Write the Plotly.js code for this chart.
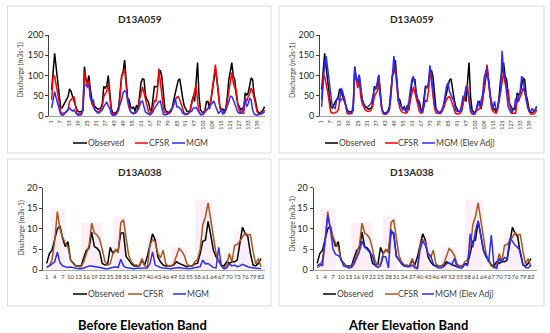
<!DOCTYPE html>
<html><head><meta charset="utf-8">
<script src="https://cdn.plot.ly/plotly-3.0.1.min.js"></script>
<style>html,body{margin:0;padding:0;background:#fff;}#chart{width:550px;height:333px;}</style>
</head><body><div id="chart"></div>
<script>
// ---------- DATA ----------
// Station D13A059: monthly discharge (m3/s), 144 months
const obs059 = [65,110,155,120,90,48,22,20,27,36,44,48,67,61,48,36,25,15,11,10,11,14,122,90,82,100,65,40,30,23,20,17,18,19,30,73,69,75,100,57,19,8,7,8,12,23,57,98,110,138,90,44,40,23,19,23,11,27,15,57,82,92,90,52,40,35,17,11,44,73,72,73,100,113,98,48,19,11,9,8,15,20,40,57,73,88,92,73,45,25,19,11,11,11,32,48,36,90,132,48,15,10,8,15,36,36,17,40,70,100,115,90,61,23,15,17,11,20,48,90,110,132,98,90,52,30,23,15,19,15,57,52,57,75,94,90,52,36,15,8,8,11,15,23];
const cfsr059 = [40,100,98,80,60,35,10,7,7,8,10,15,36,40,44,48,25,6,5,5,6,20,110,90,69,86,48,30,20,15,12,11,12,15,25,48,55,61,79,48,15,5,4,5,8,15,48,98,105,117,73,36,19,11,9,7,7,9,20,40,57,72,57,44,27,11,7,8,20,38,36,60,117,82,48,20,8,6,6,6,10,19,30,40,46,48,40,27,15,7,5,5,6,15,32,44,60,77,36,11,5,4,5,15,15,20,22,40,70,105,127,90,57,19,11,8,7,15,36,60,82,107,82,69,65,27,15,7,7,7,44,36,48,55,69,61,44,27,11,5,5,5,8,15];
const mgm059 = [20,45,60,45,30,22,5,2,3,8,12,18,20,15,12,15,8,4,2,2,3,15,76,76,75,76,45,35,40,15,10,7,8,11,15,23,30,35,25,19,5,2,2,3,8,19,30,40,58,62,60,40,23,10,7,5,7,10,15,25,35,37,23,10,7,4,3,5,10,19,25,31,35,37,15,4,3,3,5,8,11,19,28,45,23,23,19,15,7,4,3,4,8,11,11,19,20,21,15,7,3,3,5,10,15,19,23,30,35,37,25,15,7,10,15,5,8,15,23,35,49,48,40,31,19,10,7,8,11,23,40,23,30,44,40,15,5,3,2,3,5,7,8,10];
const mgmAdj059 = [23,90,132,148,120,80,60,25,22,19,40,45,36,69,60,45,27,11,10,8,7,30,119,98,82,102,69,40,30,24,22,23,28,32,48,69,65,82,102,52,18,8,7,7,10,15,48,90,148,119,69,36,30,20,15,19,11,19,36,65,90,98,77,50,36,25,12,8,27,69,69,82,125,100,65,27,18,11,8,7,15,27,48,73,82,61,52,45,36,15,11,11,11,27,48,50,73,60,48,19,7,7,8,19,36,23,35,52,94,107,119,82,48,36,19,36,15,20,40,61,161,107,90,52,23,15,7,12,19,44,32,48,61,98,90,60,40,20,11,11,19,12,15,23];

// Station D13A038: monthly discharge (m3/s), 82 months
const obs038 = [1.6,4,4.8,7.3,10,10.7,7.7,5.7,6.9,2.4,1.6,1.0,1.0,1.0,3,4.8,5.3,9.2,5.7,5.3,4.5,1.6,1.2,1.3,5.5,4,4.8,4.8,9,9,3.3,2.4,1.5,1.0,1.0,1.0,2.4,1.2,3.2,5.7,8.8,7.3,3.2,2,1.2,1.0,1.0,1.0,1.2,2,1.6,1.3,1.0,0.8,1.0,1.0,1.5,1.6,4,7,7.3,11.8,8.5,4.8,3.2,2.4,1.2,1.0,2,1.6,2,2,2.4,6.1,10.4,8.9,8.1,4,1.2,1.0,1.6,2.8];
const cfsr038 = [0.6,1.0,2.5,7,14.2,10,8,6.5,5.5,2.5,1.5,1,0.8,0.8,2,4,6,11.4,9,8.5,7.5,5,2,1.2,1.5,4,5,4.2,11.5,12.2,8,3.5,2,1.3,1.2,1.0,2.8,1.0,0.6,6,7.4,6.8,4,3,4.8,1.5,1.0,1.0,1.5,3.5,5.2,4.6,3.5,1.5,1.0,1.0,2,2.5,5,11,13,16.3,12,8,4,2,1.0,0.5,1,4,2,6,6.2,7,8,9,8.5,8.6,4.5,1.5,2.8,0.8];
const mgm038 = [0.8,1.0,1.5,2.0,4.3,1.8,1.0,0.8,0.6,0.7,0.5,0.4,0.3,0.3,0.5,0.8,1.0,1.0,0.9,0.7,0.6,0.5,0.3,0.3,0.5,0.7,0.8,0.6,2.6,1.0,0.6,0.5,0.4,0.3,0.4,0.4,0.5,0.4,0.5,1.5,4.4,1.2,0.8,0.6,0.5,0.4,0.3,0.3,0.4,0.5,0.6,0.5,0.4,0.3,0.3,0.4,0.5,0.6,0.8,2.4,1.5,1.6,1.0,0.6,0.5,5.5,1.0,0.3,0.5,1.5,1.0,1.2,0.8,1.0,1.4,1.0,0.8,0.6,0.5,0.4,0.3,0.3];
const mgmAdj038 = [1.0,1.5,1.0,7,13.2,10,5,3.8,3.5,2.8,1.0,0.8,0.5,0.6,1.5,3,4.5,7,5.5,5,4.2,3.5,1.0,0.6,1.0,3.3,3.2,0.5,9.8,8.5,3.5,2.5,1.5,1.0,0.8,0.8,1.2,0.5,0.3,5,7,6,4,3.5,1.5,0.8,0.5,0.5,0.8,1.5,1.8,1.2,2.8,0.8,0.5,0.5,1.5,1.0,8.8,5.5,9.5,12,8,5,3.5,2.0,8.5,1.0,0.3,2.8,2,3,2.8,7.7,7,6,5.5,4.5,1.5,0.6,0.5,1.2];

// faint pink bands behind D13A038 wet seasons
const bandStart = [2.5,14,26,36,39,48,57,68,72];
const bandEnd   = [8,22,31,38,44,54,64,71,78];
const bandTop   = [15,11.5,13,3.5,8,5.5,17,4,9.5];

const titles = ["D13A059","D13A059","D13A038","D13A038"];
const seriesNamesBefore = ["Observed","CFSR","MGM"];
const seriesNamesAfter = ["Observed","CFSR","MGM (Elev Adj)"];
const bottomLabels = ["Before Elevation Band","After Elevation Band"];
const yTitle = "Discharge (m3s-1)";

// ---------- BUILD ----------
const W = 550, H = 333;
const FONT = "Lato, 'Open Sans', sans-serif";
const px = v => v / W;
const py = v => 1 - v / H;

const months144 = obs059.map((_, i) => i + 1);
const months82 = obs038.map((_, i) => i + 1);
const ticks144 = months144.filter(m => (m - 1) % 6 === 0);
const ticks82 = months82.filter(m => (m - 1) % 3 === 0);

const BLACK = "#000000", RED = "#ff0000", BLUE = "#2b2bff", BROWN = "#a8561c";

function tr(x, y, color, ax) {
  return {x: x, y: y, type: "scatter", mode: "lines", line: {color: color, width: 1.5},
          xaxis: "x" + ax, yaxis: "y" + ax, showlegend: false, hoverinfo: "skip"};
}
const data = [
  tr(months144, obs059, BLACK, ""), tr(months144, cfsr059, RED, ""), tr(months144, mgm059, BLUE, ""),
  tr(months144, obs059, BLACK, "2"), tr(months144, cfsr059, RED, "2"), tr(months144, mgmAdj059, BLUE, "2"),
  tr(months82, obs038, BLACK, "3"), tr(months82, cfsr038, BROWN, "3"), tr(months82, mgm038, BLUE, "3"),
  tr(months82, obs038, BLACK, "4"), tr(months82, cfsr038, BROWN, "4"), tr(months82, mgmAdj038, BLUE, "4")
];
data.forEach(t => { t.xaxis = t.xaxis === "x" ? "x" : t.xaxis; t.yaxis = t.yaxis === "y" ? "y" : t.yaxis; });

function xax(d0, d1, r0, r1, tv, angle, size) {
  return {domain: [px(d0), px(d1)], range: [r0, r1], tickvals: tv, ticktext: tv.map(String),
          tickangle: angle, tickfont: {family: FONT, size: size, color: "#404040"},
          showline: true, linecolor: "#a6a6a6", linewidth: 1, ticks: "", showgrid: false,
          zeroline: false, fixedrange: true, ticklabelstandoff: 1};
}
function yax(top, bot, rmax, dt) {
  return {domain: [py(bot), py(top)], range: [0, rmax], dtick: dt, tick0: 0,
          tickfont: {family: FONT, size: 9, color: "#262626"},
          showline: true, linecolor: "#404040", linewidth: 1, ticks: "outside", ticklen: 3,
          tickcolor: "#404040", showgrid: false, zeroline: false, fixedrange: true};
}

const layout = {
  width: W, height: H, margin: {l: 0, r: 0, t: 0, b: 0},
  paper_bgcolor: "#fff", plot_bgcolor: "rgba(0,0,0,0)", showlegend: false,
  font: {family: FONT},
  xaxis:  Object.assign(xax(49.3, 265, -0.6, 144.3, ticks144, -90, 5.5), {anchor: "y"}),
  yaxis:  Object.assign(yax(35, 116, 200, 50), {anchor: "x"}),
  xaxis2: Object.assign(xax(320, 537, -0.1, 144.2, ticks144, -90, 5.5), {anchor: "y2"}),
  yaxis2: Object.assign(yax(35, 116, 200, 50), {anchor: "x2"}),
  xaxis3: Object.assign(xax(43.3, 265, -0.3, 83.5, ticks82, 0, 6), {anchor: "y3"}),
  yaxis3: Object.assign(yax(187.7, 270, 20, 5), {anchor: "x3"}),
  xaxis4: Object.assign(xax(313.5, 536.7, -0.4, 84.2, ticks82, 0, 6), {anchor: "y4"}),
  yaxis4: Object.assign(yax(187.7, 270, 20, 5), {anchor: "x4"}),
  shapes: [], annotations: []
};

// panel boxes
[[7.5, 271, 6, 153], [279, 544, 6, 153], [7.5, 271, 159, 306], [279, 544, 159, 306]].forEach(b => {
  layout.shapes.push({type: "rect", xref: "paper", yref: "paper", x0: px(b[0]), x1: px(b[1]),
    y0: py(b[3]), y1: py(b[2]), line: {color: "#d9d9d9", width: 1}, fillcolor: "rgba(0,0,0,0)", layer: "below"});
});

// pink bands in the D13A038 panels
["3", "4"].forEach(ax => {
  bandStart.forEach((s, i) => {
    layout.shapes.push({type: "rect", xref: "x" + ax, yref: "y" + ax, x0: s, x1: bandEnd[i], y0: 0, y1: bandTop[i],
      fillcolor: "rgba(252,205,235,0.35)", line: {width: 0}, layer: "below"});
  });
});

// panel titles
[[140, 19], [412, 19], [140, 171.7], [412, 171.7]].forEach((p, i) => {
  layout.annotations.push({xref: "paper", yref: "paper", x: px(p[0]), y: py(p[1]), text: "<b>" + titles[i] + "</b>",
    showarrow: false, xanchor: "center", yanchor: "middle", font: {family: FONT, size: 10, color: "#262626"}});
});

// y titles
[[19.5, 70], [292, 70], [20.5, 228], [291.5, 224]].forEach(p => {
  layout.annotations.push({xref: "paper", yref: "paper", x: px(p[0]), y: py(p[1]), text: yTitle, textangle: -90,
    showarrow: false, xanchor: "center", yanchor: "middle", font: {family: FONT, size: 7, color: "#404040"}});
});

// legends (line sample + label)
function legend(yPx, items, names, colors) {
  items.forEach((it, i) => {
    layout.shapes.push({type: "line", xref: "paper", yref: "paper", x0: px(it[0]), x1: px(it[1]),
      y0: py(yPx), y1: py(yPx), line: {color: colors[i], width: 1.5}});
    layout.annotations.push({xref: "paper", yref: "paper", x: px(it[1] + 0.5), y: py(yPx), text: names[i],
      showarrow: false, xanchor: "left", yanchor: "middle", xshift: -2,
      font: {family: FONT, size: 8.5, color: "#404040"}});
  });
}
legend(143, [[73, 87], [135, 148], [172, 185]], seriesNamesBefore, [BLACK, RED, BLUE]);
legend(143, [[325, 338], [385, 398], [422, 435]], seriesNamesAfter, [BLACK, RED, BLUE]);
legend(294, [[73, 87], [128, 142], [173, 186]], seriesNamesBefore, [BLACK, BROWN, BLUE]);
legend(294, [[323, 336], [385, 398], [422, 434]], seriesNamesAfter, [BLACK, BROWN, BLUE]);

// bottom labels
[[142, 325], [408, 325]].forEach((p, i) => {
  layout.annotations.push({xref: "paper", yref: "paper", x: px(p[0]), y: py(p[1]), text: "<b>" + bottomLabels[i] + "</b>",
    showarrow: false, xanchor: "center", yanchor: "middle", font: {family: FONT, size: 13, color: "#000"}});
});

Plotly.newPlot("chart", data, layout, {staticPlot: true, displayModeBar: false});
</script>
</body></html>
